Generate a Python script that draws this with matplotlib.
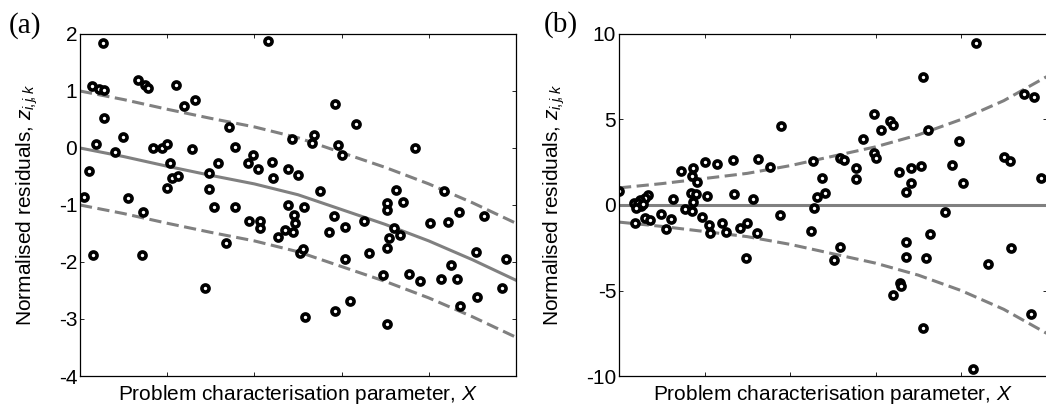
import matplotlib
matplotlib.use('Agg')
import matplotlib.pyplot as plt
import numpy as np

plt.rcParams['font.family'] = ['Liberation Sans', 'DejaVu Sans']
plt.rcParams['mathtext.fontset'] = 'custom'
plt.rcParams['mathtext.rm'] = 'Liberation Sans'
plt.rcParams['mathtext.it'] = 'Liberation Sans:italic'
plt.rcParams['axes.unicode_minus'] = False

# (a) residuals with a trend
xa = [0.26, 0.14, 0.22, 0.27, 0.27, 0.18, 0.10, 0.05, 0.40, 0.49, 0.55, 0.66, 0.75, 0.78,
      0.84, 0.94, 1.00, 1.03, 1.06, 1.12, 1.00, 1.10, 1.19, 1.32, 1.29, 1.48, 1.48, 1.58,
      1.71, 1.78, 1.98, 1.93, 2.04, 2.16, 2.20, 2.21, 2.39, 2.43, 2.50, 2.39,
      0.72, 0.15, 0.71, 1.43, 1.54, 1.78, 1.68, 1.94, 2.06, 2.06, 2.45, 2.47, 2.44, 2.35,
      2.27, 2.52, 2.56,
      2.92, 3.17, 2.68, 2.66, 2.96, 3.01, 3.84, 2.75, 3.62, 3.52, 3.70, 4.18, 2.57, 4.35,
      2.91, 2.86, 3.04, 3.26, 3.52, 3.60, 3.67, 3.54, 3.52, 3.04, 3.31, 3.48, 3.77, 3.90,
      4.01, 4.22, 4.63, 4.14, 4.32, 4.25, 4.36, 4.55, 4.54, 4.84, 4.89, 2.58, 2.92, 3.10, 3.52]
ya = [1.84, 1.08, 1.03, 1.02, 0.52, 0.07, -0.40, -0.86, -0.07, 0.20, -0.87, 1.19, 1.11, 1.05,
      0.00, 0.00, 0.07, -0.26, -0.53, -0.50, -0.70, 1.10, 0.74, 0.85, -0.02, -0.44, -0.72, -0.26,
      0.36, 0.02, -0.12, -0.26, -0.36, 1.88, -0.25, -0.53, -0.36, 0.15, -0.47, -1.00,
      -1.13, -1.88, -1.88, -2.46, -1.04, -1.04, -1.66, -1.28, -1.28, -1.41, -1.18, -1.32, -1.48, -1.44,
      -1.56, -1.84, -1.77,
      0.77, 0.42, 0.23, 0.09, 0.05, -0.12, 0.00, -0.75, -0.74, -0.97, -0.94, -0.75, -1.03, -1.12,
      -1.19, -1.47, -1.38, -1.28, -1.08, -1.40, -1.53, -1.58, -1.76, -1.94, -1.84, -2.23, -2.21, -2.33,
      -1.32, -1.30, -1.20, -2.30, -2.30, -2.05, -2.77, -2.62, -1.83, -2.46, -1.94, -2.97, -2.86, -2.68, -3.08]
xa_line = [0, 0.5, 1, 1.5, 2, 2.5, 3, 3.5, 4, 4.5, 5]
mean_a = [0.0, -0.15, -0.32, -0.48, -0.63, -0.82, -1.08, -1.34, -1.63, -1.96, -2.32]
band_a = 1.0

# (b) residuals with growing spread
xb = [0.00, 1.90, 0.73, 0.86, 0.85, 0.91, 1.00, 1.15, 1.33, 1.62, 1.77, 0.63, 0.34, 0.30,
      0.24, 0.18, 0.84, 0.90, 1.03, 1.35, 1.57, 0.86,
      0.19, 0.30, 0.36, 0.49, 0.61, 0.55, 0.77, 0.85, 0.97, 1.05, 1.07, 1.21, 1.25, 1.42,
      1.50, 1.61, 1.48, 1.88, 0.22, 0.26, 0.20, 0.28,
      4.18, 3.56, 2.98, 3.17, 3.21, 3.06, 2.85, 3.61, 3.98, 4.74, 4.85, 2.27, 2.59, 2.63,
      2.77, 2.77, 2.98, 3.01, 3.28, 3.42, 3.53, 3.90, 4.02, 4.50, 4.57, 4.93, 2.37, 2.41,
      2.32, 3.42, 3.36, 3.81,
      2.28, 2.24, 2.52, 2.59, 3.36, 3.36, 3.59, 3.64, 3.29, 3.30, 3.20, 3.56, 4.14, 4.31,
      4.58, 4.82]
yb = [0.82, 4.64, 1.99, 2.18, 1.70, 1.36, 2.50, 2.40, 2.63, 2.69, 2.20, 0.35, 0.58, 0.39,
      0.29, 0.13, 0.72, 0.63, 0.53, 0.63, 0.33, 0.19,
      -1.07, -0.78, -0.88, -0.53, -0.84, -1.42, -0.25, -0.33, -0.72, -1.17, -1.65, -1.03, -1.56, -1.36,
      -1.07, -1.62, -3.12, -0.58, 0.10, -0.06, -0.15, 0.05,
      9.46, 7.50, 5.32, 4.93, 4.68, 4.39, 3.86, 4.39, 3.74, 6.47, 6.30, 2.59, 2.73, 2.63,
      2.18, 1.52, 3.02, 2.73, 1.91, 2.15, 2.28, 2.34, 1.30, 2.83, 2.59, 1.56, 1.56, 0.72,
      0.45, 1.27, 0.74, -0.43,
      -0.19, -1.52, -3.22, -2.47, -2.15, -3.06, -3.12, -1.70, -4.58, -4.74, -5.26, -7.21, -9.61, -3.45,
      -2.53, -6.37]
xb_line = [0, 0.5, 1, 1.5, 2, 2.5, 3, 3.5, 4, 4.5, 5]
mean_b = [0, 0, 0, 0, 0, 0, 0, 0, 0, 0, 0]
band_b = [1.0, 1.25, 1.55, 1.85, 2.3, 2.85, 3.4, 4.1, 5.0, 6.1, 7.5]

line_col = '#808080'

fig = plt.figure(figsize=(10.46, 4.08), dpi=100)
ax1 = fig.add_axes([80 / 1046, 1 - 376 / 408, 436 / 1046, 342 / 408])
ax2 = fig.add_axes([619 / 1046, 1 - 376 / 408, 427.5 / 1046, 342 / 408])


def draw_panel(ax, x, y, xl, mean, band, xmax, yticks, tag):
    mean = np.array(mean)
    band = np.array(band)
    ax.plot(xl, mean + band, '--', color=line_col, lw=2.2, dashes=(4, 1.8))
    ax.plot(xl, mean - band, '--', color=line_col, lw=2.2, dashes=(4, 1.8))
    ax.plot(xl, mean, '-', color=line_col, lw=2.2)
    ax.plot(x, y, 'o', ms=5.1, mew=2.6, mec='black', mfc='white', ls='none')
    ax.set_xlim(0, xmax)
    ax.set_ylim(yticks[0], yticks[-1])
    ax.set_xticks([0, 1, 2, 3, 4, 5])
    ax.set_xticklabels([])
    ax.set_yticks(yticks)
    ax.set_yticklabels([str(t) for t in yticks])
    ax.tick_params(direction='in', top=True, right=True, length=3, width=0.6,
                   labelsize=15, pad=2)
    for s in ax.spines.values():
        s.set_linewidth(0.9)
    ax.set_xlabel('Problem characterisation parameter, $X$', fontsize=15)
    ax.set_ylabel(r'Normalised residuals, $z_{i\!,j\!,k}$', fontsize=15)
    ax.text(0, 1, tag, transform=ax.transAxes, fontsize=21,
            family='Liberation Serif', ha='center', va='center')


draw_panel(ax1, xa, ya, xa_line, mean_a, band_a, 5, [-4, -3, -2, -1, 0, 1, 2], '(a)')
draw_panel(ax2, xb, yb, xb_line, mean_b, band_b, 4.94, [-10, -5, 0, 5, 10], '(b)')

ax1.xaxis.set_label_coords(0.5, -0.02)
ax2.xaxis.set_label_coords(0.5, -0.02)
ax1.yaxis.set_label_coords(-0.092, 0.5)
ax2.yaxis.set_label_coords(-0.122, 0.5)
ax1.texts[0].set_position((-55 / 436, 1 + 8 / 342))
ax2.texts[0].set_position((-58 / 427.5, 1 + 9 / 342))

fig.savefig('out.png', dpi=100)
